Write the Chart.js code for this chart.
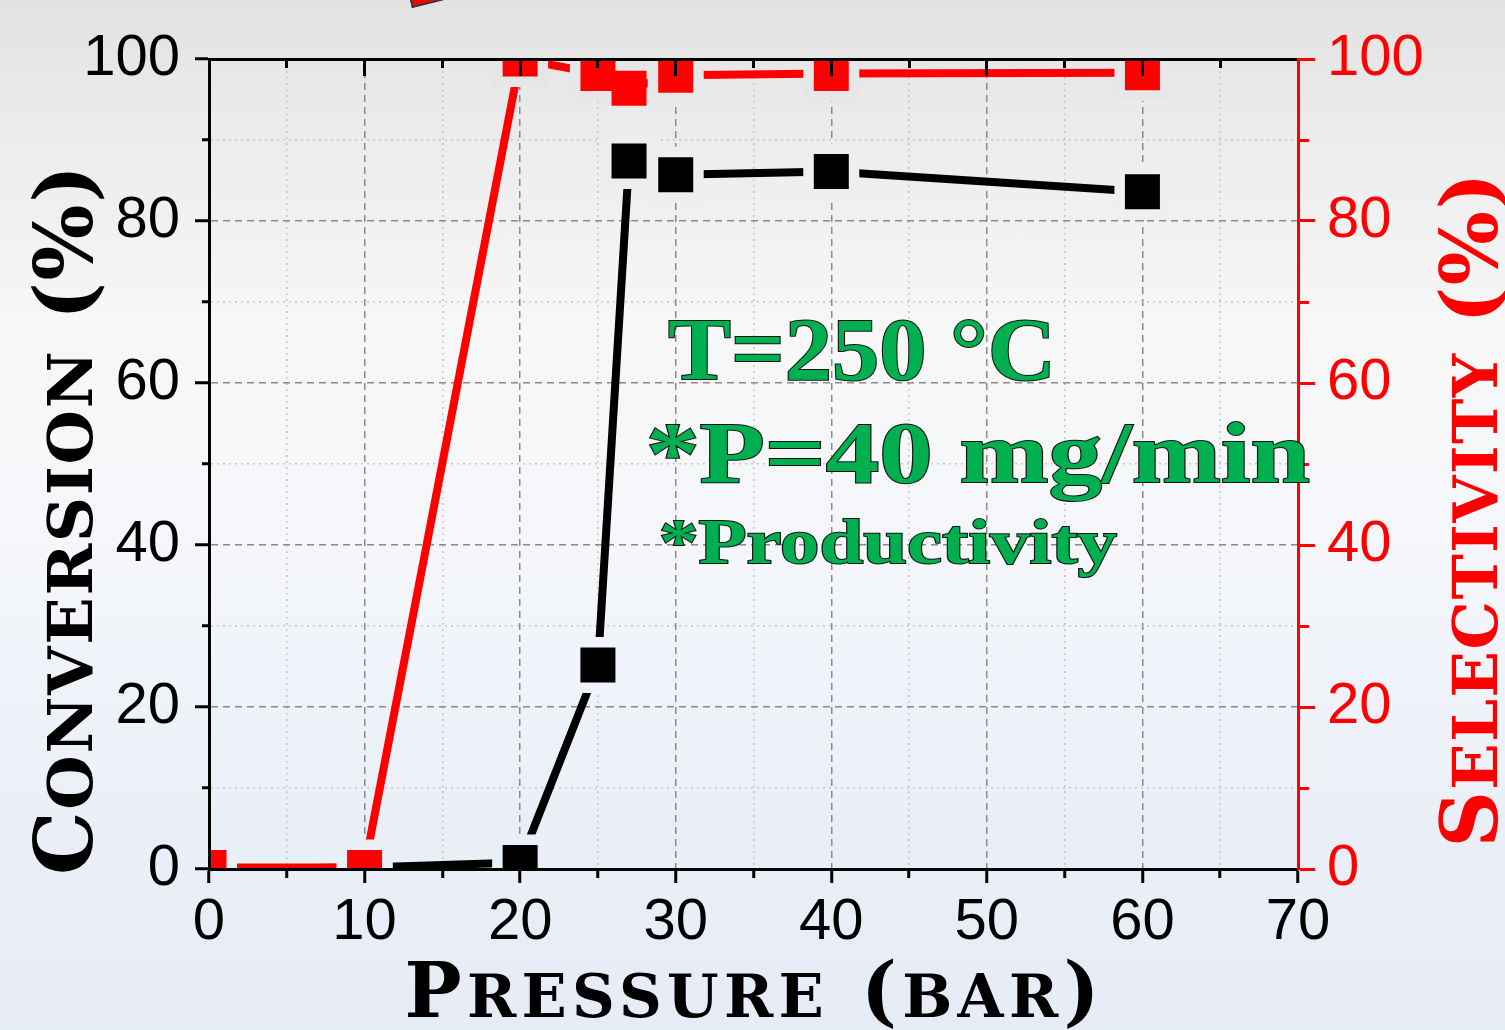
<!DOCTYPE html>
<html>
<head>
<meta charset="utf-8">
<script src="https://cdn.jsdelivr.net/npm/chart.js@4.4.0/dist/chart.umd.min.js"></script>
<style>
html,body{margin:0;padding:0;}
body{width:1505px;height:1030px;overflow:hidden;position:relative;
  background:linear-gradient(to bottom,#e2e2e2 0%,#ebebeb 12%,#f7f7f7 32%,#f4f6fa 55%,#eaeff7 80%,#e6ecf6 100%);}
#wrap{position:absolute;left:0;top:0;width:1505px;height:1030px;}
#frag{position:absolute;left:412px;top:-36px;width:50px;height:44px;background:#ff0000;
  border-left:2px solid #3a3a3a;border-bottom:2px solid #3a3a3a;box-sizing:border-box;
  transform-origin:0 100%;transform:rotate(-14deg);}
.note{position:absolute;white-space:nowrap;font-family:"Liberation Serif","Times New Roman",serif;font-weight:bold;
  color:#00b050;-webkit-text-stroke:2px #141414;paint-order:stroke fill;line-height:1;transform-origin:0 0;z-index:5;}
</style>
</head>
<body>
<div id="frag"></div>
<div id="wrap"><canvas id="c" width="1505" height="1030"></canvas></div>

<script>
// ---------- data ----------
const pressure    = [0, 10, 20, 25, 27, 30, 40, 60];
const conversion  = [0, 0.2, 0.8, 25.2, 87.4, 85.7, 86.1, 83.6];
const selectivity = [0.2, 0.2, 100, 98.2, 96.4, 98.0, 98.2, 98.3];

const xTickLabels = [0, 10, 20, 30, 40, 50, 60, 70];
const yTickLabels = [0, 20, 40, 60, 80, 100];

const xTitle  = 'Pressure (bar)';
const yTitle  = 'Conversion (%)';
const y2Title = 'Selectivity (%)';

const notes = ['T=250 °C', '*P=40 mg/min', '*Productivity'];

// ---------- annotation text (HTML) ----------
const noteLayout = [
  {left:668, baseline:380, size:88, width:388},
  {left:646, baseline:482, size:87, width:664},
  {left:659, baseline:564, size:63, width:458}
];
notes.forEach((t, i) => {
  const L = noteLayout[i];
  const d = document.createElement('div');
  d.className = 'note';
  d.textContent = t;
  d.style.fontSize = L.size + 'px';
  d.style.left = L.left + 'px';
  d.style.top = (L.baseline - 0.8375 * L.size) + 'px';
  document.body.appendChild(d);
  const w = d.getBoundingClientRect().width;
  d.style.transform = 'scaleX(' + (L.width / w) + ')';
});

// ---------- helpers ----------
const TICK_FONT  = {family:'"Liberation Sans", Arial, sans-serif', size:58, lineHeight:1};
const TITLE_FAM  = '"DejaVu Serif", serif';
const CLEAR = 'rgba(0,0,0,0)';
const MAJOR_GRID = '#8a8a8a', MINOR_GRID = '#c6c6c6';

// page background colour at a given y (matches the CSS gradient) - used for the marker halo
const bgStops = [[0,[226,226,226]],[0.12,[235,235,235]],[0.32,[247,247,247]],[0.55,[244,246,250]],[0.8,[234,239,247]],[1,[230,236,246]]];
function bgAt(py){
  const t = Math.min(1, Math.max(0, py / 1030));
  for (let i = 1; i < bgStops.length; i++){
    if (t <= bgStops[i][0]){
      const [t0,c0] = bgStops[i-1], [t1,c1] = bgStops[i];
      const f = (t - t0) / (t1 - t0);
      const c = c0.map((v, k) => Math.round(v + (c1[k] - v) * f));
      return 'rgb(' + c.join(',') + ')';
    }
  }
  return 'rgb(230,236,246)';
}
const HALO = 10.5;          // gap between line ends and markers
const MARK = 35;            // visible marker side
const noHalo = {Selectivity:[4]};   // overlapping markers that must not cut into their neighbours
function hasHalo(ctx){ const l = noHalo[ctx.dataset.label]; return !(l && l.includes(ctx.dataIndex)); }
const haloRadius = (ctx) => (hasHalo(ctx) ? MARK + HALO : MARK) / Math.SQRT2;
const haloWidth  = (ctx) => hasHalo(ctx) ? HALO : 0;
const haloColor  = (ctx) => {
  const s = ctx.chart.scales[ctx.dataset.yAxisID];
  if (!s || !ctx.parsed) return CLEAR;
  return bgAt(s.getPixelForValue(ctx.parsed.y));
};

// small-caps style axis titles (capitals full size, lower case as reduced capitals)
function capsSegments(text){
  const segs = [];
  for (const ch of text){
    const small = ch !== ch.toUpperCase();
    const t = ch.toUpperCase();
    if (segs.length && segs[segs.length - 1].small === small) segs[segs.length - 1].t += t;
    else segs.push({t, small});
  }
  return segs;
}
function drawCapsTitle(c, text, o){
  const segs = capsSegments(text);
  const fontFor = s => 'bold ' + (s.small ? o.size * o.ratio : o.size) + 'px ' + TITLE_FAM;
  c.save();
  c.letterSpacing = '0px';
  let natural = 0, n = 0;
  segs.forEach(s => { c.font = fontFor(s); natural += c.measureText(s.t).width; n += [...s.t].length; });
  const sp = Math.max(0, (o.length - natural) / (n - 1));
  c.letterSpacing = sp.toFixed(2) + 'px';
  c.translate(o.x, o.y);
  c.rotate(o.rot);
  c.fillStyle = o.color;
  c.textAlign = 'left';
  c.textBaseline = 'alphabetic';
  let x = -o.length / 2;
  segs.forEach(s => { c.font = fontFor(s); c.fillText(s.t, x, 0); x += c.measureText(s.t).width; });
  c.restore();
}

const titlePlugin = {
  id:'capsTitles',
  afterDraw(chart){
    const c = chart.ctx;
    drawCapsTitle(c, xTitle,  {x:752, y:1017, rot:0,            size:76, ratio:0.78, length:695, color:'#000'});
    drawCapsTitle(c, yTitle,  {x:92,  y:520,  rot:-Math.PI / 2, size:80, ratio:0.78, length:710, color:'#000'});
    drawCapsTitle(c, y2Title, {x:1497,y:510,  rot:-Math.PI / 2, size:78, ratio:0.78, length:675, color:'#ff0000'});
  }
};

const pts = (ys) => pressure.map((p, i) => ({x:p, y:ys[i]}));

new Chart(document.getElementById('c'), {
  type:'line',
  data:{
    datasets:[
      {label:'Selectivity', data:pts(selectivity), xAxisID:'x', yAxisID:'y2',
       borderColor:'#ff0000', backgroundColor:'#ff0000', borderWidth:8,
       pointStyle:'rect', pointRadius:haloRadius, pointBorderWidth:haloWidth, pointBorderColor:haloColor,
       pointBackgroundColor:'#ff0000', tension:0, clip:0},
      {label:'Conversion', data:pts(conversion), xAxisID:'x', yAxisID:'y',
       borderColor:'#000000', backgroundColor:'#000000', borderWidth:8,
       pointStyle:'rect', pointRadius:haloRadius, pointBorderWidth:haloWidth, pointBorderColor:haloColor,
       pointBackgroundColor:'#000000', tension:0, clip:0}
    ]
  },
  options:{
    responsive:false, maintainAspectRatio:false, devicePixelRatio:1, animation:false,
    layout:{padding:0},
    plugins:{legend:{display:false}, tooltip:{enabled:false}},
    scales:{
      x:{
        type:'linear', position:'bottom', min:0, max:70,
        afterFit(s){ s.height = 161; },
        ticks:{stepSize:5, autoSkip:false, maxRotation:0, minRotation:0, padding:11, color:'#000', font:TICK_FONT,
               callback:(v) => xTickLabels.includes(v) ? String(v) : ''},
        grid:{
          color:(c) => !c.tick || c.tick.value === 0 || c.tick.value === 70 ? CLEAR : (c.tick.value % 10 === 0 ? MAJOR_GRID : MINOR_GRID),
          lineWidth:1.5, tickLength:14, tickWidth:3, tickColor:'#000',
          tickBorderDash:(c) => c.tick && c.tick.value % 10 !== 0 ? [7, 100] : []
        },
        border:{display:true, color:'#000', width:3, z:1,
          dash:(c) => c.tick ? (c.tick.value % 10 === 0 ? [7, 5] : [2, 4]) : []},
        title:{display:false, text:xTitle}
      },
      x2:{
        type:'linear', position:'top', min:0, max:70,
        afterFit(s){ s.height = 59; },
        ticks:{display:false, stepSize:5, autoSkip:false},
        grid:{drawTicks:false, z:1, lineWidth:3,
          color:(c) => !c.tick || c.tick.value === 0 || c.tick.value === 70 ? CLEAR : '#000'},
        border:{display:true, color:'#000', width:3, z:1,
          dash:(c) => c.tick ? (c.tick.value % 10 === 0 ? [15, 3000] : [7, 3000]) : []}
      },
      y:{
        type:'linear', position:'left', min:0, max:100,
        afterFit(s){ s.width = 209; },
        ticks:{stepSize:10, autoSkip:false, padding:15, color:'#000', font:TICK_FONT,
               callback:(v) => yTickLabels.includes(v) ? String(v) : ''},
        grid:{
          color:(c) => !c.tick || c.tick.value === 0 || c.tick.value === 100 ? CLEAR : (c.tick.value % 20 === 0 ? MAJOR_GRID : MINOR_GRID),
          lineWidth:1.5, tickLength:14, tickWidth:3, tickColor:'#000',
          tickBorderDash:(c) => c.tick && c.tick.value % 20 !== 0 ? [0, 7, 100] : []
        },
        border:{display:true, color:'#000', width:3, z:1,
          dash:(c) => c.tick ? (c.tick.value % 20 === 0 ? [7, 5] : [2, 4]) : []},
        title:{display:false, text:yTitle}
      },
      y2:{
        type:'linear', position:'right', min:0, max:100,
        afterFit(s){ s.width = 207; },
        ticks:{stepSize:10, autoSkip:false, padding:12, color:'#ff0000', font:TICK_FONT,
               callback:(v) => yTickLabels.includes(v) ? String(v) : ''},
        grid:{drawOnChartArea:false, tickLength:17, tickWidth:3, tickColor:'#ff0000',
          tickBorderDash:(c) => c.tick && c.tick.value % 20 !== 0 ? [9, 100] : []},
        border:{display:true, color:'#ff0000', width:3, z:1},
        title:{display:false, text:y2Title}
      }
    }
  },
  plugins:[titlePlugin]
});
</script>
</body>
</html>
